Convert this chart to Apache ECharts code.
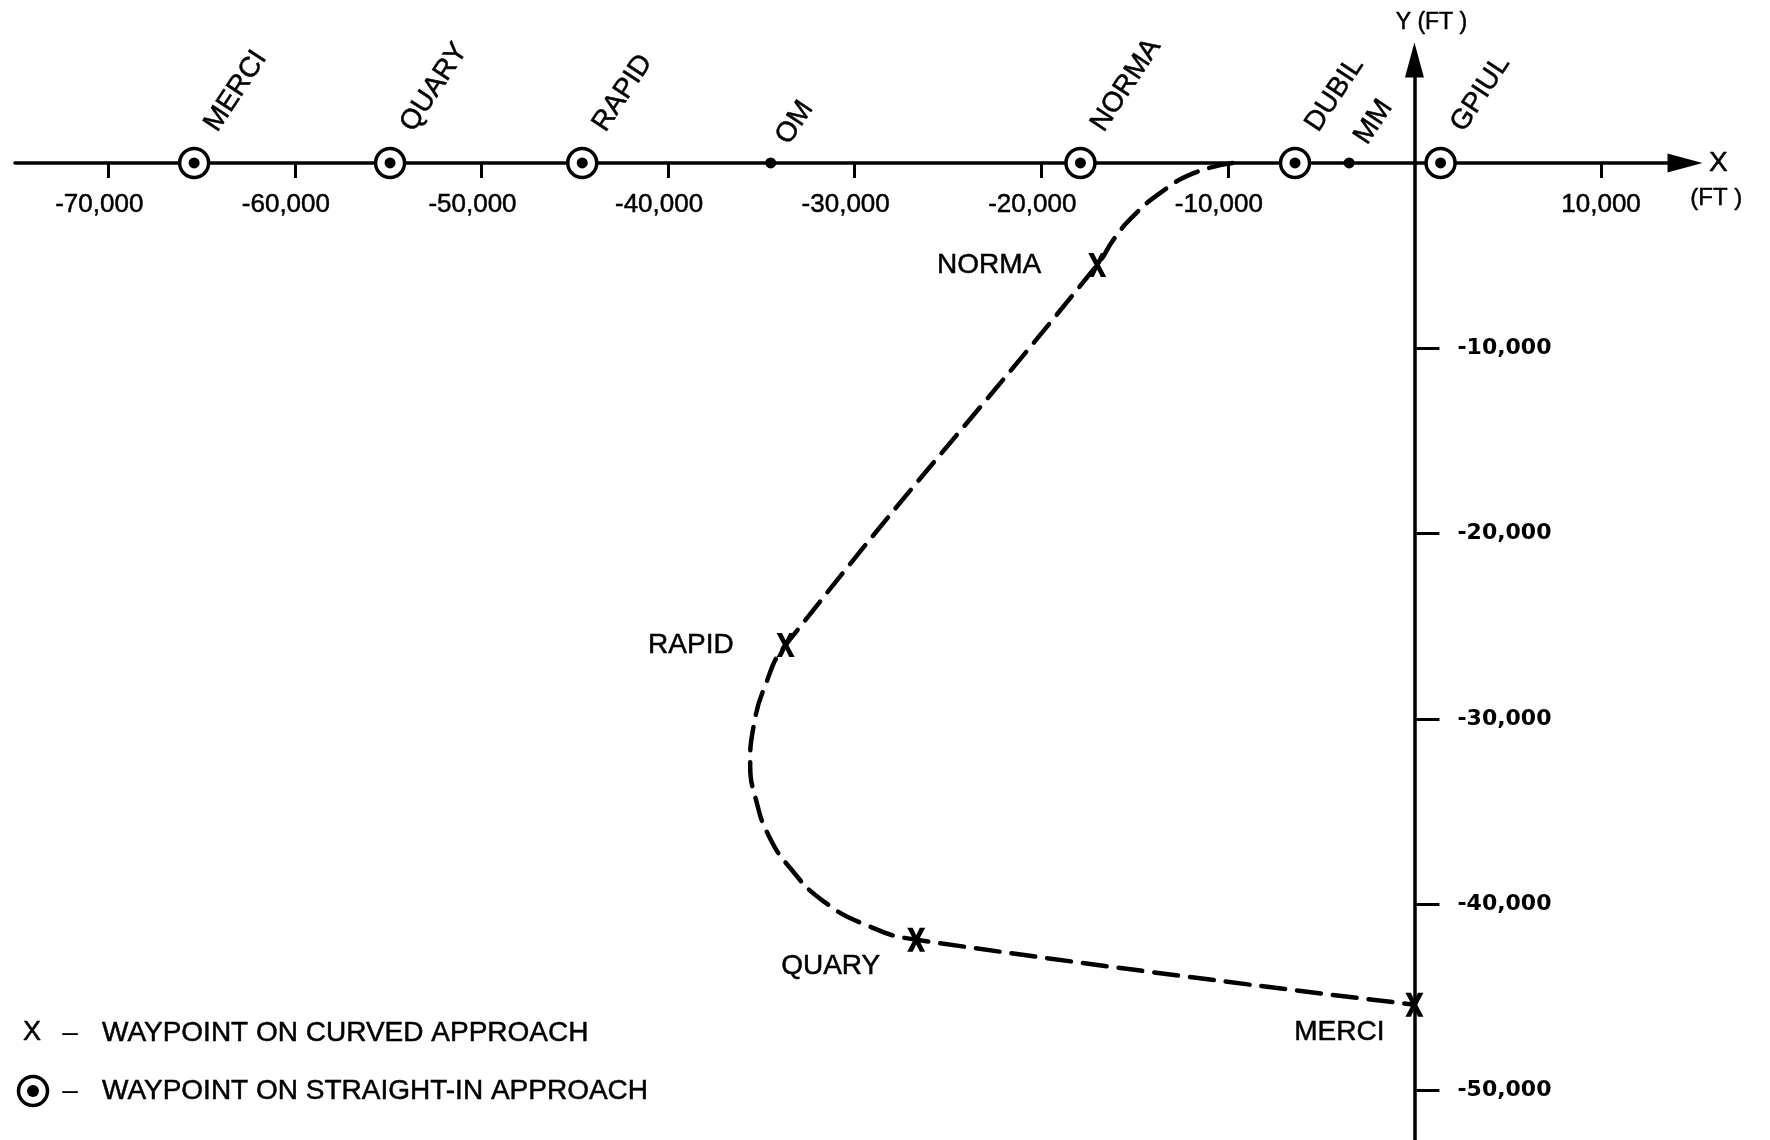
<!DOCTYPE html>
<html>
<head>
<meta charset="utf-8">
<title>Waypoints on curved and straight-in approach</title>
<script src="https://cdn.jsdelivr.net/npm/echarts@6/dist/echarts.min.js"></script>
<style>
  html, body { margin: 0; padding: 0; background: #fff; }
  #myChart { width: 1770px; height: 1140px; }
</style>
</head>
<body>
<div id="myChart"></div>
<script>
  // axis ticks (ft)
  var xTicks = [-70000, -60000, -50000, -40000, -30000, -20000, -10000, 10000];
  var yTicks = [-10000, -20000, -30000, -40000, -50000];
  var xMin = -75000, xMax = 14500;
  var yMin = -52700, yMax = 5550;

  // straight-in approach waypoints, all on the X axis (y = 0)
  var straightNames = ['MERCI', 'QUARY', 'RAPID', 'OM', 'NORMA', 'DUBIL', 'MM', 'GPIUL'];
  var straightX = [-65400, -54900, -44600, -34500, -17900, -6400, -3500, 1400];
  var straightKind = ['ring', 'ring', 'ring', 'dot', 'ring', 'ring', 'dot', 'ring'];

  // curved approach waypoints
  var curvedNames = ['NORMA', 'RAPID', 'QUARY', 'MERCI'];
  var curvedX = [-17000, -33700, -26700, 0];
  var curvedY = [-5500, -26000, -41900, -45400];

  // curved approach path
  var pathX = [-9750, -11800, -13600, -15100, -16100, -17000, -33700, -34800, -35400, -35600, -35300, -34600, -33400, -31700, -29400, -26700, 0];
  var pathY = [0, -540, -1600, -2900, -4100, -5500, -26000, -28200, -30300, -32500, -34300, -36300, -38100, -39800, -41100, -41900, -45400];

  // where the curved waypoint names sit relative to their X
  var curvedLabelOffset = { NORMA: [-56, 0], RAPID: [-52, 0], QUARY: [-36, 27], MERCI: [-30, 28] };

  var FONT = "'Liberation Sans', Arial, sans-serif";

  function fmt(v) {
    var s = Math.abs(v).toString().replace(/\B(?=(\d{3})+(?!\d))/g, ',');
    return (v < 0 ? '-' : '') + s;
  }

  var pathData = pathX.map(function (x, i) { return [x, pathY[i]]; });

  var ringData = [], centreData = [], navDotData = [];
  straightNames.forEach(function (n, i) {
    if (straightKind[i] === 'ring') {
      ringData.push({ name: n, value: [straightX[i], 0] });
      centreData.push({ name: n, value: [straightX[i], 0] });
    } else {
      navDotData.push({ name: n, value: [straightX[i], 0] });
    }
  });

  var curvedData = curvedNames.map(function (n, i) {
    return { name: n, value: [curvedX[i], curvedY[i]], label: { offset: curvedLabelOffset[n] } };
  });

  // printed look: text a touch heavier than the plain font
  var ink = { color: '#000', textBorderColor: '#000', textBorderWidth: 0.5 };

  var myChart = echarts.init(document.getElementById('myChart'));

  myChart.setOption({
    animation: false,
    backgroundColor: '#ffffff',
    textStyle: { fontFamily: FONT, color: '#000' },
    grid: { left: 15, right: 85, top: 60, bottom: 0, containLabel: false, outerBoundsMode: 'none' },
    xAxis: {
      type: 'value',
      min: xMin,
      max: xMax,
      position: 'bottom',
      name: 'X',
      nameLocation: 'end',
      nameGap: 24,
      nameTextStyle: Object.assign({ fontSize: 28, fontFamily: FONT, verticalAlign: 'middle', padding: [0, 0, 4, 0] }, ink),
      axisLine: {
        onZero: false,
        symbol: ['none', 'triangle'],
        symbolSize: [19, 35],
        lineStyle: { color: '#000', width: 3.5 }
      },
      axisTick: { show: true, length: 15, customValues: xTicks, lineStyle: { color: '#000', width: 3 } },
      axisLabel: Object.assign({
        customValues: xTicks,
        margin: 29,
        fontSize: 26,
        fontFamily: FONT,
        formatter: function (v) {
          // minus sign hangs left of the centred digits
          return v < 0 ? '{n|' + fmt(v) + '}' : fmt(v);
        },
        rich: { n: Object.assign({ fontSize: 26, fontFamily: FONT, padding: [0, 18, 0, 0] }, ink) }
      }, ink),
      splitLine: { show: false }
    },
    yAxis: {
      type: 'value',
      min: yMin,
      max: yMax,
      position: 'right',
      name: 'Y (FT )',
      nameLocation: 'end',
      nameGap: 37,
      nameTextStyle: Object.assign({ fontSize: 23, fontFamily: FONT, align: 'center', verticalAlign: 'middle', padding: [0, 0, 0, 34] }, ink),
      axisLine: {
        onZero: false,
        symbol: ['none', 'triangle'],
        symbolSize: [19, 35],
        lineStyle: { color: '#000', width: 3.5 }
      },
      axisTick: { show: true, length: 25, customValues: yTicks, lineStyle: { color: '#000', width: 3 } },
      axisLabel: {
        customValues: yTicks,
        margin: 43,
        fontSize: 22,
        fontWeight: 'bold',
        color: '#000',
        fontFamily: "'DejaVu Sans', sans-serif",
        formatter: function (v) { return fmt(v); }
      },
      splitLine: { show: false }
    },
    series: [
      {
        name: 'curved path',
        type: 'line',
        data: pathData,
        smooth: 0.5,
        symbol: 'none',
        silent: true,
        lineStyle: { color: '#000', width: 4.5, type: [24, 12], cap: 'round' },
        z: 2
      },
      {
        name: 'curved waypoints',
        type: 'scatter',
        data: curvedData,
        symbol: 'path://M0,0 L6,0 L10,8 L14,0 L20,0 L13,13 L20,26 L14,26 L10,18 L6,26 L0,26 L7,13 Z',
        symbolSize: [18, 24],
        itemStyle: { color: '#000', opacity: 1 },
        label: Object.assign({
          show: true,
          formatter: '{b}',
          position: 'inside',
          align: 'right',
          verticalAlign: 'middle',
          fontSize: 28,
          fontFamily: FONT
        }, ink),
        z: 3
      },
      {
        name: 'straight-in waypoints',
        type: 'scatter',
        data: ringData,
        symbol: 'circle',
        symbolSize: 29,
        itemStyle: { color: '#fff', borderColor: '#000', borderWidth: 3.5, opacity: 1 },
        label: Object.assign({
          show: true,
          formatter: '{b}',
          position: [33, -18],
          align: 'left',
          verticalAlign: 'middle',
          rotate: 56.5,
          fontSize: 28,
          fontFamily: FONT
        }, ink),
        z: 4
      },
      {
        name: 'ring centres',
        type: 'scatter',
        data: centreData,
        symbol: 'circle',
        symbolSize: 11,
        itemStyle: { color: '#000', opacity: 1 },
        z: 5
      },
      {
        name: 'markers',
        type: 'scatter',
        data: navDotData,
        symbol: 'circle',
        symbolSize: 11,
        itemStyle: { color: '#000', opacity: 1 },
        label: Object.assign({
          show: true,
          formatter: '{b}',
          position: [17, -16],
          align: 'left',
          verticalAlign: 'middle',
          rotate: 56.5,
          fontSize: 28,
          fontFamily: FONT
        }, ink),
        z: 5
      }
    ],
    graphic: [
      // "(FT )" under the X axis name
      { type: 'text', left: 1690, top: 186, style: { text: '(FT )', fontSize: 24, fontFamily: FONT, fill: '#000', stroke: '#000', lineWidth: 0.5 } },
      // legend
      { type: 'text', x: 32, y: 1033, style: { text: 'X', fontSize: 27, fontFamily: FONT, fill: '#000', stroke: '#000', lineWidth: 0.5, align: 'center', verticalAlign: 'middle', textAlign: 'center', textVerticalAlign: 'middle' } },
      { type: 'text', x: 70, y: 1033, style: { text: '–', fontSize: 28, fontFamily: FONT, fill: '#000', align: 'center', verticalAlign: 'middle', textAlign: 'center', textVerticalAlign: 'middle' } },
      { type: 'text', x: 102, y: 1033, style: { text: 'WAYPOINT ON CURVED APPROACH', fontSize: 28, fontFamily: FONT, fill: '#000', stroke: '#000', lineWidth: 0.5, align: 'left', verticalAlign: 'middle', textAlign: 'left', textVerticalAlign: 'middle' } },
      { type: 'circle', shape: { cx: 33, cy: 1091, r: 14.5 }, style: { fill: '#fff', stroke: '#000', lineWidth: 3.5 } },
      { type: 'circle', shape: { cx: 33, cy: 1091, r: 6 }, style: { fill: '#000' } },
      { type: 'text', x: 70, y: 1091, style: { text: '–', fontSize: 28, fontFamily: FONT, fill: '#000', align: 'center', verticalAlign: 'middle', textAlign: 'center', textVerticalAlign: 'middle' } },
      { type: 'text', x: 102, y: 1091, style: { text: 'WAYPOINT ON STRAIGHT-IN APPROACH', fontSize: 28, fontFamily: FONT, fill: '#000', stroke: '#000', lineWidth: 0.5, align: 'left', verticalAlign: 'middle', textAlign: 'left', textVerticalAlign: 'middle' } }
    ]
  });

  // move both axes onto the origin (labels and ticks included)
  var zero = myChart.convertToPixel({ gridIndex: 0 }, [0, 0]);
  var edge = myChart.convertToPixel({ gridIndex: 0 }, [xMax, yMin]);
  myChart.setOption({
    xAxis: { offset: zero[1] - edge[1] },
    yAxis: { offset: zero[0] - edge[0] }
  });
</script>
</body>
</html>
